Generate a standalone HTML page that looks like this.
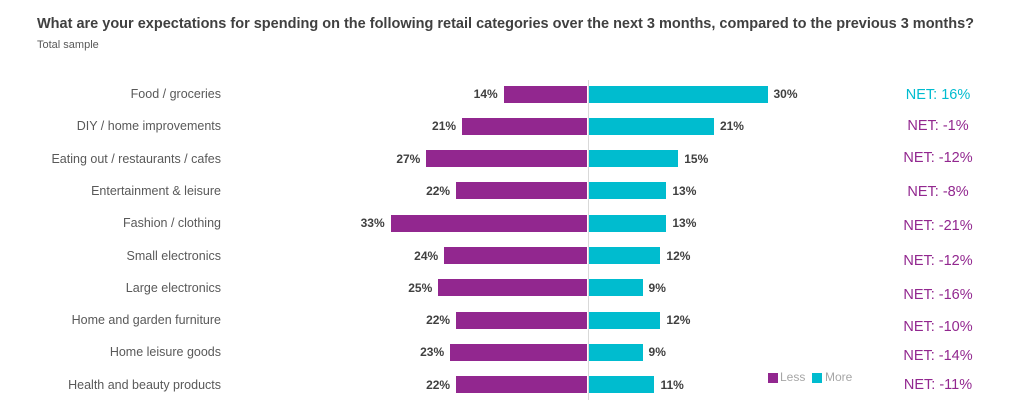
<!DOCTYPE html><html><head><style>
body{margin:0;width:1024px;height:410px;background:#fff;font-family:"Liberation Sans",sans-serif;position:relative;overflow:hidden}
.a{position:absolute;white-space:nowrap}
.t{left:37px;top:16px;font-size:14.5px;font-weight:bold;color:#404040}
.s{left:37px;top:39px;font-size:11px;color:#595959}
.l{font-size:12.5px;color:#595959;text-align:right;width:184px;left:37px}
.b{height:17px}
.p{background:#92278f}.c{background:#00bccf}
.v{font-size:12px;font-weight:bold;color:#404040}
.n{font-size:14.5px;color:#92278f;width:120px;text-align:center;left:878px}
</style></head><body>
<div class="a t">What are your expectations for spending on the following retail categories over the next 3 months, compared to the previous 3 months?</div>
<div class="a s">Total sample</div>
<div class="a" style="left:588px;top:80px;width:1px;height:320px;background:#d9d9d9"></div>
<div id="r"></div>
<div class="a" style="left:768px;top:373px;width:10px;height:10px;background:#92278f"></div>
<div class="a" style="left:780px;top:370px;font-size:12px;color:#a6a6a6">Less</div>
<div class="a" style="left:812px;top:373px;width:10px;height:10px;background:#00bccf"></div>
<div class="a" style="left:825px;top:370px;font-size:12px;color:#a6a6a6">More</div>
<script>
var d=[["Food / groceries",14,30,"NET: 16%"],["DIY / home improvements",21,21,"NET: -1%"],["Eating out / restaurants / cafes",27,15,"NET: -12%"],["Entertainment & leisure",22,13,"NET: -8%"],["Fashion / clothing",33,13,"NET: -21%"],["Small electronics",24,12,"NET: -12%"],["Large electronics",25,9,"NET: -16%"],["Home and garden furniture",22,12,"NET: -10%"],["Home leisure goods",23,9,"NET: -14%"],["Health and beauty products",22,11,"NET: -11%"]];
var ny=[96,127,159,193,227,262,296,328,357,386];
var h="",k=5.95;
d.forEach(function(r,i){var y=94+i*32.3;
h+='<div class="a l" style="top:'+(y-7)+'px">'+r[0].replace("&","&amp;")+'</div>';
var w1=r[1]*k,w2=r[2]*k;
h+='<div class="a b p" style="left:'+(587-w1)+'px;width:'+w1+'px;top:'+(y-8.5)+'px"></div>';
h+='<div class="a b c" style="left:589px;width:'+w2+'px;top:'+(y-8.5)+'px"></div>';
h+='<div class="a v" style="right:'+(1024-587+w1+6)+'px;top:'+(y-7)+'px">'+r[1]+'%</div>';
h+='<div class="a v" style="left:'+(589+w2+6)+'px;top:'+(y-7)+'px">'+r[2]+'%</div>';
h+='<div class="a n" style="top:'+(ny[i]-9)+'px;'+(i==0?'color:#00bccf':'')+'">'+r[3]+'</div>';});
document.getElementById("r").innerHTML=h;
</script></body></html>
